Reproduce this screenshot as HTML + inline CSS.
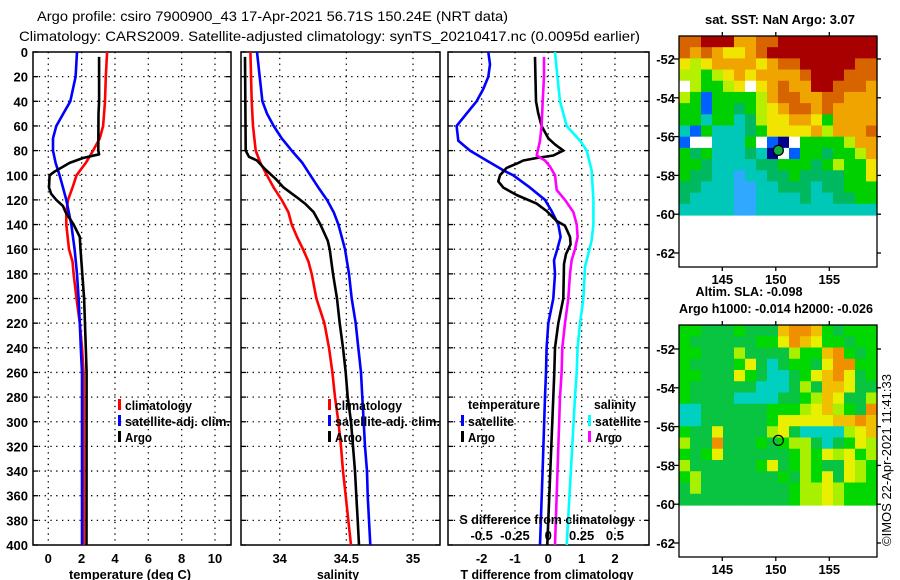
<!DOCTYPE html>
<html><head><meta charset="utf-8"><style>
html,body{margin:0;padding:0;background:#fff;}
svg{display:block;font-family:"Liberation Sans",Arial,sans-serif;font-weight:bold;}
</style></head><body>
<svg id="fig" xmlns="http://www.w3.org/2000/svg" width="900" height="580" viewBox="0 0 900 580">
<text x="37" y="21" font-size="14" font-weight="normal" textLength="471" lengthAdjust="spacingAndGlyphs">Argo profile: csiro 7900900_43 17-Apr-2021 56.71S 150.24E (NRT data)</text>
<text x="19" y="41" font-size="14" font-weight="normal" textLength="621" lengthAdjust="spacingAndGlyphs">Climatology: CARS2009. Satellite-adjusted climatology: synTS_20210417.nc (0.0095d earlier)</text>
<g id="layer"></g>
</svg>
<script>
// ---------- data ----------
const depthTicks=[0,20,40,60,80,100,120,140,160,180,200,220,240,260,280,300,320,340,360,380,400];
const tempTicks=[0,2,4,6,8,10];
const salTicks=[34,34.5,35];
const salTickLabels=["34","34.5","35"];
const diffTTicks=[-2,-1,0,1,2];
const diffSTicks=[-0.5,-0.25,0,0.25,0.5];
const diffSTickLabels=["-0.5","-0.25","0","0.25","0.5"];

const climTDepth=[0,20,40,60,70,80,90,100,110,120,130,140,160,170,180,200,220,240,260,300,400];
const climTVal=[3.53,3.45,3.4,3.29,3.09,2.69,2.25,1.69,1.45,1.18,1.08,1.08,1.24,1.45,1.52,1.69,1.89,2.02,2.12,2.12,2.12];
const satTDepth=[0,20,40,50,60,70,80,90,100,110,120,140,160,180,200,220,240,260,400];
const satTVal=[1.72,1.64,1.32,0.9,0.48,0.28,0.28,0.44,0.68,0.88,1.08,1.38,1.58,1.72,1.82,1.89,1.95,2.02,2.02];
const argoTDepth=[4,40,50,80,83,86,90,97,100,110,115,120,125,130,140,150,160,180,200,240,260,400];
const argoTVal=[3.05,3.05,3.01,3.0,3.05,2.08,1.28,0.38,0.08,0.04,0.17,0.48,0.88,1.04,1.52,1.89,1.93,2.04,2.15,2.25,2.3,2.29];

const climSDepth=[0,40,60,80,90,100,110,120,130,140,150,160,170,180,200,220,240,260,280,300,320,340,360,380,400];
const climSVal=[33.78,33.79,33.80,33.82,33.855,33.905,33.955,34.015,34.065,34.09,34.13,34.175,34.215,34.24,34.275,34.335,34.37,34.395,34.415,34.44,34.46,34.475,34.495,34.515,34.535];
const satSDepth=[0,20,40,50,60,70,80,90,100,110,120,130,140,160,180,200,220,240,260,280,300,320,340,360,380,400];
const satSVal=[33.83,33.85,33.87,33.905,33.955,34.015,34.09,34.17,34.23,34.29,34.355,34.405,34.44,34.49,34.52,34.54,34.57,34.59,34.61,34.62,34.63,34.64,34.655,34.66,34.67,34.68];
const argoSDepth=[4,80,85,88,95,103,110,118,123,130,140,153,160,180,200,220,240,260,280,300,320,340,360,380,400];
const argoSVal=[33.74,33.745,33.77,33.83,33.89,33.97,34.03,34.13,34.19,34.255,34.305,34.36,34.375,34.4,34.43,34.45,34.475,34.495,34.51,34.535,34.55,34.565,34.575,34.585,34.595];

const dSatTDepth=[0,10,20,30,40,50,60,72,80,88,96,100,110,120,129,140,150,160,169,180,200,220,240,260,280,340,400];
const dSatTVal=[-1.8,-1.75,-1.8,-1.95,-2.15,-2.45,-2.75,-2.7,-2.35,-1.85,-1.35,-1.05,-0.55,-0.1,0.1,0.3,0.37,0.27,0.17,0.2,0.15,0.0,-0.05,-0.07,-0.1,-0.17,-0.25];
const dArgoTDepth=[4,40,50,60,70,75,80,84,86,88,90,94,100,105,110,116,123,129,137,141,150,156,164,172,200,220,240,260,280,400];
const dArgoTVal=[-0.4,-0.37,-0.3,-0.2,0,0.2,0.45,0.15,-0.35,-0.75,-0.9,-1.25,-1.45,-1.5,-1.35,-0.95,-0.35,-0.05,0.25,0.5,0.65,0.67,0.53,0.47,0.45,0.3,0.2,0.18,0.15,-0.03];
const dArgoSDepth=[4,20,40,60,72,84,88,93,100,112,120,130,140,150,160,169,180,200,220,240,260,280,400];
const dArgoSVal=[-0.032,-0.032,-0.042,-0.05,-0.062,-0.087,-0.025,0.0125,0.05,0.063,0.125,0.188,0.213,0.22,0.2,0.175,0.163,0.15,0.125,0.105,0.1,0.088,0.05];
const dSatSDepth=[0,20,40,60,72,80,96,120,140,153,164,174,200,220,240,260,280,400];
const dSatSVal=[0.05,0.068,0.088,0.138,0.238,0.288,0.325,0.338,0.338,0.325,0.3,0.275,0.263,0.238,0.22,0.213,0.2,0.138];

// maps: rows north->south, cols west->east
const sstRows=[
"OORRRooOORRRRRRRRR",
"OoOoYYoORRRRRRRRRR",
"YyYooooYoOORRRRROO",
"yyGyYoYooooORRROOO",
"WyGGyYWYoOooRROOOo",
"yGBGGGGyoOOooOOooo",
"GGBGGgGyYoOOoOoooo",
"GGTGGTgyYYooYGoooo",
"TBGTTTgGYYYYoyoooO",
"BWWTTTGWBNWGGGGyoo",
"GgGTTTgTNWBGGgGGyo",
"GGgTTTTggGGGgGyGGY",
"GggTTbTTggGggggGGY",
"ggTTTbbTTgggTggGGG",
"gTTTTbbTTTTgTTggGG",
"TTTTTbbTTTTTTTTTTT"];
const slaRows=[
"GGgggGgggoOOoGgGGG",
"GggggggGGYOoYGGgGG",
"GGgggyggggyGGoOGgG",
"GggggGYgTgGGgYOOGG",
"GGgggYGgTTgGYoOYgG",
"GggggggTTTgygooYgg",
"GggggTTTTggGyoYggy",
"TTggggggGGGyYoyGgO",
"TTggggggGYYYYYooOo",
"GggYggggyYgTTTTyYo",
"yggOgggGgGyygTgGYy",
"GgGYggggggGyGYyYGy",
"yggggggGYgGyGggYyG",
"GygggggggGgyGYgYyG",
"gyggggggggGyyYyGGG",
"ggggggggggGyyYyGGG"];
</script>
<script>
const NS="http://www.w3.org/2000/svg";
const layer=document.getElementById('layer');
function mk(tag,attrs,parent){const e=document.createElementNS(NS,tag);for(const k in attrs)e.setAttribute(k,attrs[k]);(parent||layer).appendChild(e);return e;}
function txt(s,x,y,size,anchor,name,parent,len){const t=mk('text',{x:x,y:y,'font-size':size,'text-anchor':anchor||'start'},parent);t.textContent=s;
if(len){t.setAttribute('textLength',len);t.setAttribute('lengthAdjust','spacingAndGlyphs');}


return t;}

const Y0=52,Y1=545;
const yD=d=>Y0+(d/400)*(Y1-Y0);

function panel(name,x0,x1,xs,ticks,labels){
  const g=mk('g',{});
  
  
  ticks.forEach(v=>{const x=xs(v);mk('line',{x1:x,x2:x,y1:Y0,y2:Y1,stroke:'#000','stroke-width':1.3,'stroke-dasharray':'1.3,4.5'},g);});
  depthTicks.forEach(d=>{if(d>0&&d<400){const y=yD(d);mk('line',{x1:x0,x2:x1,y1:y,y2:y,stroke:'#000','stroke-width':1.3,'stroke-dasharray':'1.3,4.5'},g);}});
  const fr=mk('rect',{x:x0,y:Y0,width:x1-x0,height:Y1-Y0,fill:'none',stroke:'#000','stroke-width':1.5},g);
  
  
  depthTicks.forEach(d=>{const y=yD(d);mk('line',{x1:x0,x2:x0+5,y1:y,y2:y,stroke:'#000','stroke-width':1.3},g);mk('line',{x1:x1-5,x2:x1,y1:y,y2:y,stroke:'#000','stroke-width':1.3},g);});
  if(labels){ticks.forEach((v,i)=>{txt(labels[i],xs(v),Y1+18,13,'middle',name+'-x-tick-label',g);});}
  return g;
}
function series(g,xs,depths,vals,color,name){
  const pts=depths.map((d,i)=>xs(vals[i]).toFixed(1)+','+yD(d).toFixed(1)).join(' ');
  const p=mk('polyline',{points:pts,fill:'none',stroke:color,'stroke-width':2.6,'stroke-linejoin':'round'},g);
  
  
}
function legendEntry(g,x,y,color,label,name,len){
  const r=mk('rect',{x:x,y:y-6,width:3,height:11,fill:color},g);
  
  
  txt(label,x+7,y+5,13,'start',name,g,len);
}

depthTicks.forEach(d=>{txt(String(d),28,yD(d)+5,13,'end','y-tick-label');});

// panel 1 temperature
const xT=v=>48.3+16.67*v;
const p1=panel('temperature-panel',33,231,xT,tempTicks,tempTicks.map(String));
series(p1,xT,climTDepth,climTVal,'#ff0000','climatology-temperature-line');
series(p1,xT,satTDepth,satTVal,'#0000ff','satellite-temperature-line');
series(p1,xT,argoTDepth,argoTVal,'#000000','argo-temperature-line');
legendEntry(p1,118,405,'#ff0000','climatology','legend-climatology',67);
legendEntry(p1,118,421,'#0000ff','satellite-adj. clim.','legend-satellite',105);
legendEntry(p1,118,437,'#000000','Argo','legend-argo',27);
txt('temperature (deg C)',130,579,13,'middle','temperature-axis-title',null,122);

// panel 2 salinity
const xS=v=>279.7+133.3*(v-34);
const p2=panel('salinity-panel',241,440,xS,salTicks,salTickLabels);
series(p2,xS,climSDepth,climSVal,'#ff0000','climatology-salinity-line');
series(p2,xS,satSDepth,satSVal,'#0000ff','satellite-salinity-line');
series(p2,xS,argoSDepth,argoSVal,'#000000','argo-salinity-line');
legendEntry(p2,328,405,'#ff0000','climatology','legend-climatology',67);
legendEntry(p2,328,421,'#0000ff','satellite-adj. clim.','legend-satellite',105);
legendEntry(p2,328,437,'#000000','Argo','legend-argo',27);
txt('salinity',338,579,13,'middle','salinity-axis-title',null,42);

// panel 3 differences
const xDT=v=>548.3+33.33*v;
const xDS=v=>548.3+133.3*v;
const p3=panel('difference-panel',448,649,xDT,diffTTicks,diffTTicks.map(String));
series(p3,xDT,dSatTDepth,dSatTVal,'#0000ff','satellite-temp-difference-line');
series(p3,xDT,dArgoTDepth,dArgoTVal,'#000000','argo-temp-difference-line');
series(p3,xDS,dArgoSDepth,dArgoSVal,'#ff00ff','argo-salinity-difference-line');
series(p3,xDS,dSatSDepth,dSatSVal,'#00ffff','satellite-salinity-difference-line');
txt('temperature',468,409,13,'start','legend-temperature-heading',p3,72);
legendEntry(p3,461,421,'#0000ff','satellite','legend-temp-satellite',46);
legendEntry(p3,461,437,'#000000','Argo','legend-temp-argo',27);
txt('salinity',594,409,13,'start','legend-salinity-heading',p3,42);
legendEntry(p3,588,421,'#00ffff','satellite','legend-sal-satellite',46);
legendEntry(p3,588,437,'#ff00ff','Argo','legend-sal-argo',27);
txt('S difference from climatology',547,524,13,'middle','s-difference-axis-title',p3,175);
diffSTicks.forEach((v,i)=>{txt(diffSTickLabels[i],xDS(v),540,13,'middle','s-difference-tick-label',p3);});
txt('T difference from climatology',547,579,13,'middle','t-difference-axis-title',null,173);

// maps
const sstColors={R:'#a80000',O:'#d86400',o:'#f0a400',Y:'#f0e400',y:'#b4f000',G:'#00d000',g:'#00b860',T:'#00c8b8',b:'#30a8ff',B:'#0060ff',N:'#000090',W:'#ffffff'};
const slaColors={G:'#00d800',g:'#08c440',T:'#00d0c0',Y:'#e8f000',y:'#a8f000',o:'#f0c000',O:'#f09000'};
const MX0=679,MX1=877;
const lonX=l=>722.3+10.7*(l-145);
function drawMap(name,rows,colors,top,bottom,dataBottom,latTop,markerFill){
  const g=mk('g',{});
  
  
  const cw=(MX1-MX0)/18, rh=(dataBottom-top)/rows.length;
  rows.forEach((r,ri)=>{for(let ci=0;ci<18;ci++){const c=colors[r[ci]]||'#00c000';
    mk('rect',{x:(MX0+ci*cw).toFixed(2),y:(top+ri*rh).toFixed(2),width:(cw+0.6).toFixed(2),height:(rh+0.6).toFixed(2),fill:c},g);}});
  const fr=mk('rect',{x:MX0,y:top,width:MX1-MX0,height:bottom-top,fill:'none',stroke:'#000','stroke-width':1.3},g);
  
  
  const latY=l=>latTop+(-52-l)*19.4;
  [-52,-54,-56,-58,-60,-62].forEach(l=>{const y=latY(l);mk('line',{x1:MX0-5,x2:MX0,y1:y,y2:y,stroke:'#000','stroke-width':1.3},g);mk('line',{x1:MX1,x2:MX1+4,y1:y,y2:y,stroke:'#000','stroke-width':1.3},g);
    txt(String(l),675,y+5,13,'end',name+'-lat-label',g);});
  [145,150,155].forEach(l=>{const x=lonX(l);mk('line',{x1:x,x2:x,y1:top-4,y2:top,stroke:'#000','stroke-width':1.3},g);mk('line',{x1:x,x2:x,y1:bottom,y2:bottom+4,stroke:'#000','stroke-width':1.3},g);
    txt(String(l),x,bottom+17,13,'middle',name+'-lon-label',g);});
  const c=mk('circle',{cx:lonX(150.24),cy:latY(-56.71),r:5,fill:markerFill,stroke:'#000','stroke-width':1.2},g);
  
  
}
drawMap('sst-map',sstRows,sstColors,36,267,215,59,'#10b040');
drawMap('sla-map',slaRows,slaColors,325,557,505,349,'none');
txt('sat. SST: NaN Argo: 3.07',780,24,13,'middle','sst-map-title',null,150);
txt('Altim. SLA: -0.098',749,296,13,'middle','sla-map-title',null,107);
txt('Argo h1000: -0.014 h2000: -0.026',776,313,13,'middle','sla-map-subtitle',null,194);
const cr=txt('©IMOS 22-Apr-2021 11:41:33',0,0,13,'middle','imos-credit');
cr.setAttribute('font-weight','normal');
cr.setAttribute('transform','translate(891,460) rotate(-90)');
</script>
</body></html>
